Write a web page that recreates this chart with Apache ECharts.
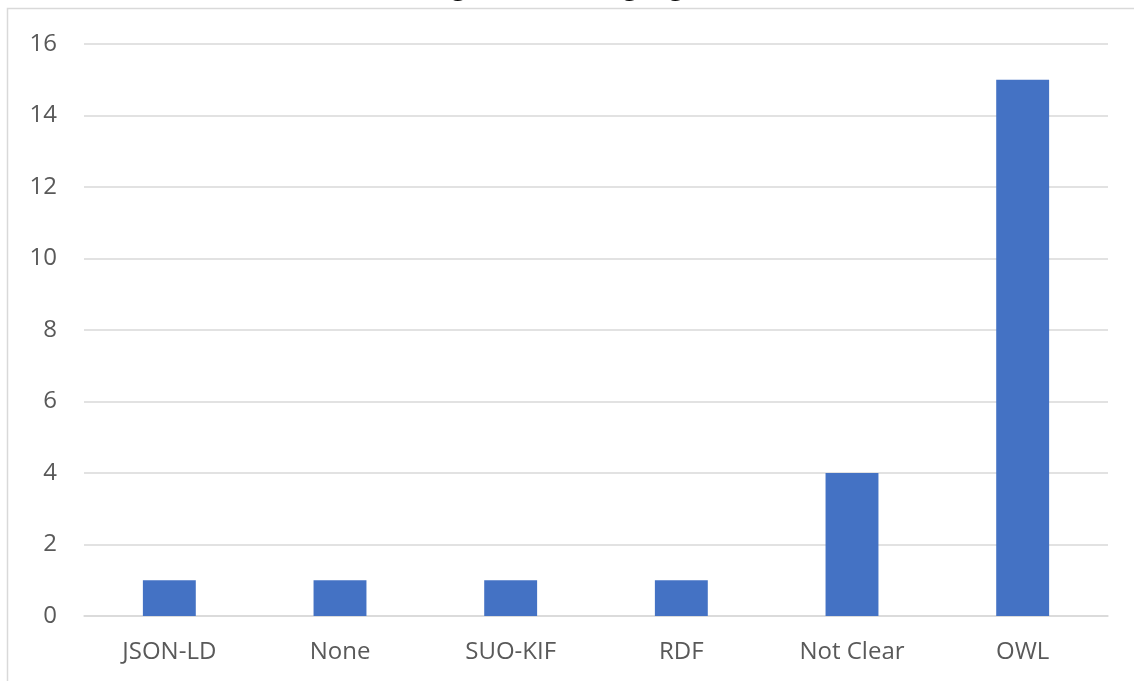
<!DOCTYPE html>
<html>
<head>
<meta charset="utf-8">
<script src="https://cdn.jsdelivr.net/npm/echarts@6/dist/echarts.min.js"></script>
<style>
  html, body { margin: 0; padding: 0; background: #ffffff; }
  #chart { width: 1134px; height: 681px; }
</style>
</head>
<body>
<div id="chart"></div>
<script>
// Languages used, count per language
const categories = ['JSON-LD', 'None', 'SUO-KIF', 'RDF', 'Not Clear', 'OWL'];
const counts = [1, 1, 1, 1, 4, 15];
const titleText = 'Figure 4.6: Languages';

const chart = echarts.init(document.getElementById('chart'));
const labelFont = { fontFamily: 'Open Sans', fontSize: 24, color: '#595959' };

chart.setOption({
  animation: false,
  backgroundColor: '#ffffff',
  title: {
    text: titleText,
    left: 'center',
    top: -30,
    padding: 0,
    textStyle: { fontFamily: 'Liberation Serif', fontSize: 32, fontWeight: 'normal', color: '#000000' }
  },
  graphic: [{
    type: 'rect',
    shape: { x: 7.5, y: 8.5, width: 1300, height: 900 },
    style: { fill: 'none', stroke: '#d9d9d9', lineWidth: 1.5 },
    silent: true
  }],
  grid: { left: 84, right: 26, top: 44, bottom: 65, containLabel: false },
  xAxis: {
    type: 'category',
    data: categories,
    axisLine: { show: true, lineStyle: { color: '#d9d9d9', width: 1.5 } },
    axisTick: { show: false },
    axisLabel: Object.assign({ margin: 24 }, labelFont)
  },
  yAxis: {
    type: 'value',
    min: 0,
    max: 16,
    interval: 2,
    axisLine: { show: false },
    axisTick: { show: false },
    axisLabel: Object.assign({ margin: 27 }, labelFont),
    splitLine: { lineStyle: { color: '#d9d9d9', width: 1.5 } }
  },
  series: [{
    type: 'bar',
    data: counts,
    barWidth: '31%',
    itemStyle: { color: '#4472c4' }
  }]
});
</script>
</body>
</html>
